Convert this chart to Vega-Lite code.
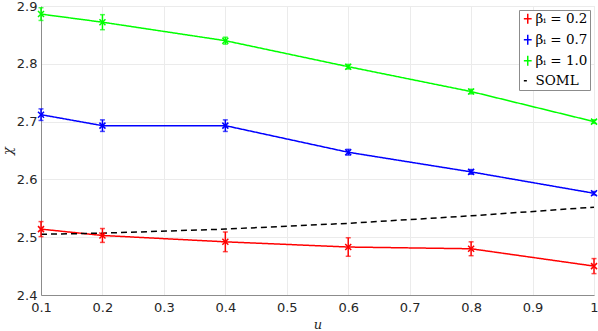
{
  "$schema": "https://vega.github.io/schema/vega-lite/v6.json",
  "width": 553,
  "height": 289,
  "autosize": {"type": "none"},
  "padding": {"left": 41, "top": 6, "right": 4, "bottom": 36},
  "background": "white",
  "config": {
    "view": {"stroke": "#e8e8e8"},
    "font": "DejaVu Sans",
    "axis": {
      "labelFont": "DejaVu Sans",
      "labelFontSize": 13,
      "labelColor": "#262626",
      "labelFlush": false,
      "domainColor": "#8c8c8c",
      "gridColor": "#ebebeb",
      "ticks": false,
      "titleFont": "DejaVu Serif",
      "titleFontStyle": "italic",
      "titleFontWeight": "normal",
      "titleFontSize": 13,
      "titleColor": "#262626"
    }
  },
  "data": {
    "values": [
      {"series": "β0.2", "u": 0.1, "chi": 2.514, "err": 0.013},
      {"series": "β0.2", "u": 0.2, "chi": 2.503, "err": 0.012},
      {"series": "β0.2", "u": 0.4, "chi": 2.492, "err": 0.017},
      {"series": "β0.2", "u": 0.6, "chi": 2.483, "err": 0.016},
      {"series": "β0.2", "u": 0.8, "chi": 2.480, "err": 0.012},
      {"series": "β0.2", "u": 1.0, "chi": 2.450, "err": 0.013},
      {"series": "β0.7", "u": 0.1, "chi": 2.712, "err": 0.010},
      {"series": "β0.7", "u": 0.2, "chi": 2.693, "err": 0.010},
      {"series": "β0.7", "u": 0.4, "chi": 2.693, "err": 0.010},
      {"series": "β0.7", "u": 0.6, "chi": 2.647, "err": 0.005},
      {"series": "β0.7", "u": 0.8, "chi": 2.613, "err": 0.004},
      {"series": "β0.7", "u": 1.0, "chi": 2.576, "err": 0.003},
      {"series": "β1.0", "u": 0.1, "chi": 2.886, "err": 0.011},
      {"series": "β1.0", "u": 0.2, "chi": 2.872, "err": 0.013},
      {"series": "β1.0", "u": 0.4, "chi": 2.840, "err": 0.006},
      {"series": "β1.0", "u": 0.6, "chi": 2.795, "err": 0.004},
      {"series": "β1.0", "u": 0.8, "chi": 2.752, "err": 0.004},
      {"series": "β1.0", "u": 1.0, "chi": 2.700, "err": 0.003},
      {"series": "SOML", "u": 0.1, "chi": 2.505},
      {"series": "SOML", "u": 0.2, "chi": 2.507},
      {"series": "SOML", "u": 0.4, "chi": 2.514},
      {"series": "SOML", "u": 0.6, "chi": 2.524},
      {"series": "SOML", "u": 0.8, "chi": 2.537},
      {"series": "SOML", "u": 1.0, "chi": 2.552}
    ]
  },
  "encoding": {
    "x": {
      "field": "u", "type": "quantitative",
      "scale": {"domain": [0.1, 1], "nice": false, "zero": false},
      "axis": {"values": [0.1,0.2,0.3,0.4,0.5,0.6,0.7,0.8,0.9,1.0], "format": ".1~f", "title": "u", "labelPadding": 6, "titlePadding": 4}
    },
    "y": {
      "field": "chi", "type": "quantitative",
      "scale": {"domain": [2.4, 2.9], "nice": false, "zero": false},
      "axis": {"values": [2.4,2.5,2.6,2.7,2.8,2.9], "format": ".1f", "title": "χ", "labelPadding": 4, "titlePadding": 2}
    },
    "color": {
      "field": "series", "type": "nominal",
      "scale": {"domain": ["β0.2", "β0.7", "β1.0", "SOML"], "range": ["#ff0000", "#0000ff", "#00ff00", "#000000"]},
      "legend": {
        "orient": "top-right",
        "offset": 4,
        "title": null,
        "strokeColor": "#8c8c8c",
        "fillColor": "white",
        "padding": 2,
        "cornerRadius": 0,
        "labelFont": "DejaVu Serif",
        "labelFontSize": 13.5,
        "labelColor": "#000000",
        "rowPadding": 4,
        "symbolSize": 36,
        "symbolStrokeWidth": 1.5,
        "symbolOffset": 0,
        "labelOffset": 1,
        "labelExpr": "datum.value === 'SOML' ? 'SOML' : 'βᵢ = ' + slice(datum.value, 1)",
        "encode": {
          "symbols": {
            "update": {
              "shape": {"signal": "datum.value === 'SOML' ? 'M-1.3,0H-0.3' : 'M-1.3,0H1.3M0,-1.7V1.7'"},
              "fill": {"value": "transparent"},
              "strokeDash": {"value": [1, 0]}
            }
          }
        }
      }
    }
  },
  "layer": [
    {
      "mark": {"type": "line", "strokeWidth": 1.5},
      "encoding": {
        "strokeDash": {
          "field": "series", "type": "nominal",
          "scale": {"domain": ["β0.2", "β0.7", "β1.0", "SOML"], "range": [[1, 0], [1, 0], [1, 0], [6, 4]]},
          "legend": null
        }
      }
    },
    {
      "transform": [{"filter": "datum.series !== 'SOML'"}],
      "mark": {"type": "errorbar", "ticks": true, "thickness": 1.5},
      "encoding": {"yError": {"field": "err"}}
    },
    {
      "transform": [{"filter": "datum.series !== 'SOML'"}],
      "mark": {"type": "point", "shape": "M-1,-1L1,1M-1,1L1,-1", "size": 36, "strokeWidth": 1.5, "filled": false, "opacity": 1}
    }
  ]
}
